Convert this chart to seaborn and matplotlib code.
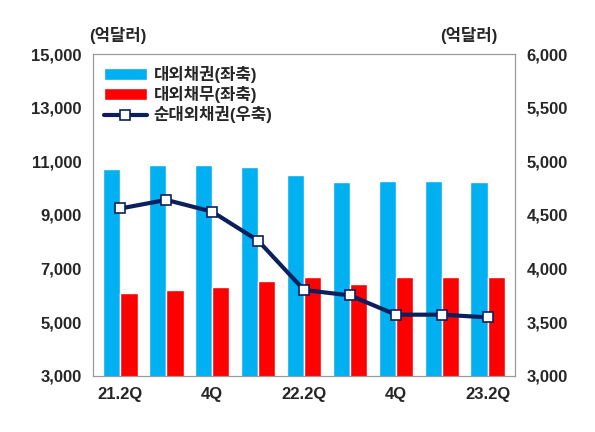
import pandas as pd
import matplotlib
matplotlib.use("Agg")
import matplotlib.pyplot as plt
import seaborn as sns

quarters = ["21.2Q", "21.3Q", "21.4Q", "22.1Q", "22.2Q", "22.3Q", "22.4Q", "23.1Q", "23.2Q"]
tick_labels = ["21.2Q", "", "4Q", "", "22.2Q", "", "4Q", "", "23.2Q"]
assets = [10710, 10850, 10850, 10800, 10480, 10220, 10250, 10250, 10220]
liabilities = [6080, 6200, 6320, 6550, 6700, 6430, 6700, 6700, 6700]
net_assets = [4560, 4640, 4530, 4260, 3800, 3750, 3570, 3570, 3545]

sns.set_style("white")
plt.rcParams['font.family'] = ['Liberation Sans', 'Noto Sans CJK KR']
plt.rcParams['font.weight'] = 'bold'

df = pd.DataFrame({
    "q": quarters * 2,
    "v": assets + liabilities,
    "s": ["대외채권(좌축)"] * 9 + ["대외채무(좌축)"] * 9,
})

fig = plt.figure(figsize=(5.95, 4.32), dpi=100)
ax = fig.add_axes([0.156, 0.13, 0.71, 0.745])
sns.barplot(data=df, x="q", y="v", hue="s", order=quarters,
            palette=["#00B0F0", "#FF0000"], width=0.75, saturation=1,
            errorbar=None, ax=ax)
ax.set_ylim(3000, 15000)
ax.set_yticks(range(3000, 15001, 2000))
ax.set_yticklabels([f"{v:,}" for v in range(3000, 15001, 2000)], fontsize=12, fontweight='bold')
ax.set_xticks(range(9))
ax.set_xticklabels(tick_labels, fontsize=12, fontweight='bold')
ax.set_xlabel("")
ax.set_ylabel("")
ax.tick_params(axis='both', length=0, pad=8)

ax2 = ax.twinx()
sns.lineplot(x=list(range(9)), y=net_assets, ax=ax2, color="#0B1F5C", linewidth=3,
             marker="s", markersize=7, markerfacecolor="white",
             markeredgecolor="#0B1F5C", markeredgewidth=1.2, label="순대외채권(우축)")
ax2.set_ylim(3000, 6000)
ax2.set_yticks(range(3000, 6001, 500))
ax2.set_yticklabels([f"{v:,}" for v in range(3000, 6001, 500)], fontsize=12, fontweight='bold')
ax2.tick_params(axis='y', length=0, pad=8)
ax.set_xlim(-0.6, 8.6)

for a in (ax, ax2):
    for sp in a.spines.values():
        sp.set_color("#999999")

h1, l1 = ax.get_legend_handles_labels()
h2, l2 = ax2.get_legend_handles_labels()
ax2.get_legend().remove()
ax.legend(h1 + h2, l1 + l2, loc="upper left", bbox_to_anchor=(-0.01, 1.01),
          frameon=False, prop={'size': 12, 'weight': 'bold'},
          handlelength=2.6, labelspacing=0.2, handletextpad=0.4)

fig.text(0.15, 0.905, "(억달러)", fontsize=12, fontweight='bold')
fig.text(0.74, 0.905, "(억달러)", fontsize=12, fontweight='bold')

fig.savefig("out.png", dpi=100)
